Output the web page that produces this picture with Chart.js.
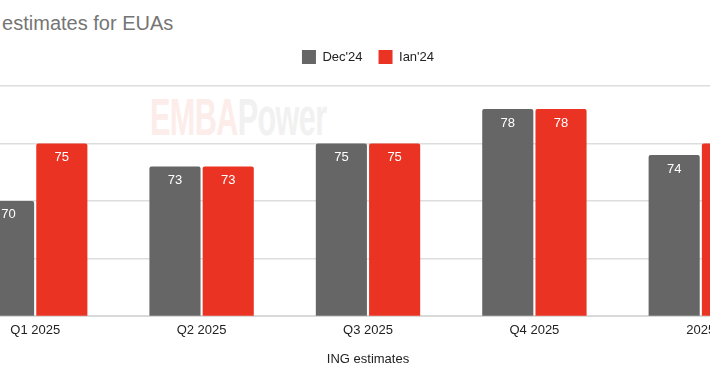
<!DOCTYPE html>
<html>
<head>
<meta charset="utf-8">
<script src="https://cdn.jsdelivr.net/npm/chart.js@4"></script>
<style>
  body { margin: 0; background: #fff; overflow: hidden; width: 710px; height: 375px; position: relative; font-family: "Liberation Sans", Arial, sans-serif; }
  #title { position: absolute; left: -39px; top: 12px; font-size: 20px; color: #757575; white-space: nowrap; }
  #mark { position: absolute; left: 150px; top: 88px; font-size: 51px; font-weight: bold; white-space: nowrap; letter-spacing: -1px; transform: scaleX(0.6); transform-origin: left top; }
  #mark .a { color: #fcecea; }
  #mark .b { color: #f1f1f1; }
  #wrap { position: absolute; left: -100px; top: 0; width: 906px; height: 375px; }
</style>
</head>
<body>
<div id="mark"><span class="a">EMBA</span><span class="b">Power</span></div>
<div id="title">ING estimates for EUAs</div>
<div id="wrap"><canvas id="chart"></canvas></div>
<script>
const categories = ["Q1 2025", "Q2 2025", "Q3 2025", "Q4 2025", "2025"];
const dec24 = [70, 73, 75, 78, 74];
const jan24 = [75, 73, 75, 78, 75];
const seriesNames = ["Dec'24", "Ian'24"];

const GRAY = "#666666";
const RED = "#ea3323";

// white value labels near the top of each bar
const valueLabels = {
  id: "valueLabels",
  afterDatasetsDraw(chart) {
    const ctx = chart.ctx;
    ctx.save();
    ctx.font = "13px 'Liberation Sans', Arial, sans-serif";
    ctx.fillStyle = "#ffffff";
    ctx.textAlign = "center";
    ctx.textBaseline = "middle";
    chart.data.datasets.forEach((ds, i) => {
      chart.getDatasetMeta(i).data.forEach((bar, j) => {
        ctx.fillText(String(ds.data[j]), bar.x, bar.y + 14);
      });
    });
    ctx.restore();
  },
};

// extra gap under the legend
const legendGap = {
  id: "legendGap",
  beforeInit(chart) {
    const fit = chart.legend.fit;
    chart.legend.fit = function () {
      fit.call(this);
      this.height += 12;
    };
  },
};

new Chart(document.getElementById("chart").getContext("2d"), {
  type: "bar",
  data: {
    labels: categories,
    datasets: [
      { label: seriesNames[0], data: dec24, backgroundColor: GRAY, borderRadius: 2, borderSkipped: "bottom" },
      { label: seriesNames[1], data: jan24, backgroundColor: RED, borderRadius: 2, borderSkipped: "bottom" },
    ],
  },
  options: {
    responsive: true,
    maintainAspectRatio: false,
    animation: false,
    categoryPercentage: 0.64,
    barPercentage: 0.96,
    layout: { padding: { top: 34, left: 52, right: 22, bottom: 4 } },
    plugins: {
      legend: {
        position: "top",
        labels: {
          boxWidth: 14,
          boxHeight: 14,
          padding: 16,
          color: "#222222",
          font: { size: 13, family: "'Liberation Sans', Arial, sans-serif" },
        },
      },
      tooltip: { enabled: false },
    },
    scales: {
      x: {
        grid: { display: false },
        border: { color: "#d9d9d9", width: 2 },
        ticks: { color: "#222222", padding: -1, font: { size: 13, family: "'Liberation Sans', Arial, sans-serif" } },
        title: {
          display: true,
          text: "ING estimates",
          color: "#222222",
          padding: { top: 14 },
          font: { size: 13, family: "'Liberation Sans', Arial, sans-serif" },
        },
      },
      y: {
        min: 60,
        max: 80,
        ticks: { stepSize: 5, display: false },
        border: { display: false },
        grid: { color: "#dddddd", lineWidth: 1.5, drawTicks: false },
      },
    },
  },
  plugins: [valueLabels, legendGap],
});
</script>
</body>
</html>
